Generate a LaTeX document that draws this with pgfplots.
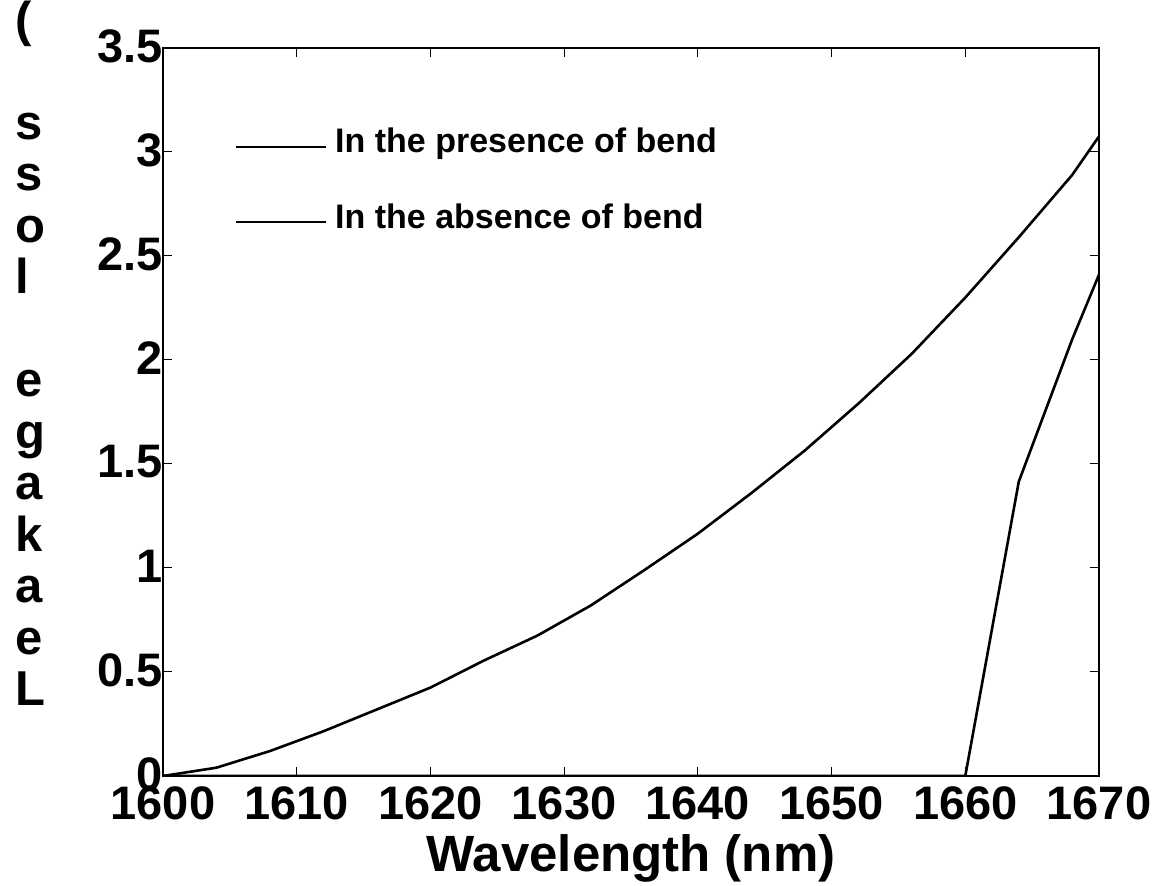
\documentclass[border=0pt]{standalone}
\usepackage{fontspec}
\setmainfont{Liberation Sans}
\usepackage{pgfplots}
\pgfplotsset{compat=1.18}
\begin{document}
\begin{tikzpicture}
\useasboundingbox (-81.5pt,-55pt) rectangle (499pt,388pt);
\begin{axis}[
  scale only axis,
  width=468pt, height=364pt,
  xmin=1600, xmax=1670, ymin=0, ymax=3.5,
  xtick={1600,1610,...,1670},
  ytick={0,0.5,...,3.5},
  tick align=inside,
  major tick length=4.5pt,
  tick style={line width=0.5pt, black},
  axis line style={line width=0.8pt},
  /pgf/number format/assume math mode=true,
  /pgf/number format/1000 sep={},
  ticklabel style={font=\fontsize{23.5}{25}\selectfont\bfseries},
  xticklabel style={yshift=-2pt},
  yticklabel style={xshift=3.5pt, yshift=1pt},
  xlabel={Wavelength (nm)},
  xlabel style={font=\fontsize{25.5}{27}\selectfont\bfseries, at={(rel axis cs:0.5,0)}, anchor=base, yshift=-48pt},
  legend cell align=left,
  legend image code/.code={\draw[#1, line width=1pt] (0pt,0pt) -- (45pt,0pt);},
  legend style={draw=none, fill=none, inner sep=0pt, outer sep=0pt,
    at={(axis cs:1605.4,3.102)}, anchor=north west,
    font=\fontsize{17}{18}\selectfont\bfseries,
    nodes={inner sep=0pt, text height=11pt, text depth=5pt},
    row sep=21.8pt, column sep=4pt},
]
\addplot[black, line width=1.3pt] coordinates {
(1600,0) (1604,0.04) (1608,0.12) (1612,0.215) (1616,0.32) (1620,0.425)
(1624,0.555) (1628,0.675) (1632,0.82) (1636,0.99) (1640,1.165) (1644,1.36)
(1648,1.565) (1652,1.79) (1656,2.03) (1660,2.3) (1664,2.59) (1668,2.89) (1670,3.075)
};
\addlegendentry{In the presence of bend}
\addplot[black, line width=1.3pt] coordinates {
(1600,0) (1604,0) (1608,0) (1612,0) (1616,0) (1620,0) (1624,0) (1628,0)
(1632,0) (1636,0) (1640,0) (1644,0) (1648,0) (1652,0) (1656,0) (1660,0)
(1664,1.415) (1668,2.10) (1670,2.41)
};
\addlegendentry{In the absence of bend}
\end{axis}
\foreach \ch/\py in {{(}/36.5, s/139.5, s/191, o/242.5, l/294, e/397, g/448.5, a/500, k/551.5, a/603, e/654.5, L/706}{
  \node[anchor=base west, inner sep=0pt, font=\fontsize{24.5}{26}\selectfont\bfseries] at (-74pt,{(776-\py)*0.5pt}) {\ch};
}
\end{tikzpicture}
\end{document}
